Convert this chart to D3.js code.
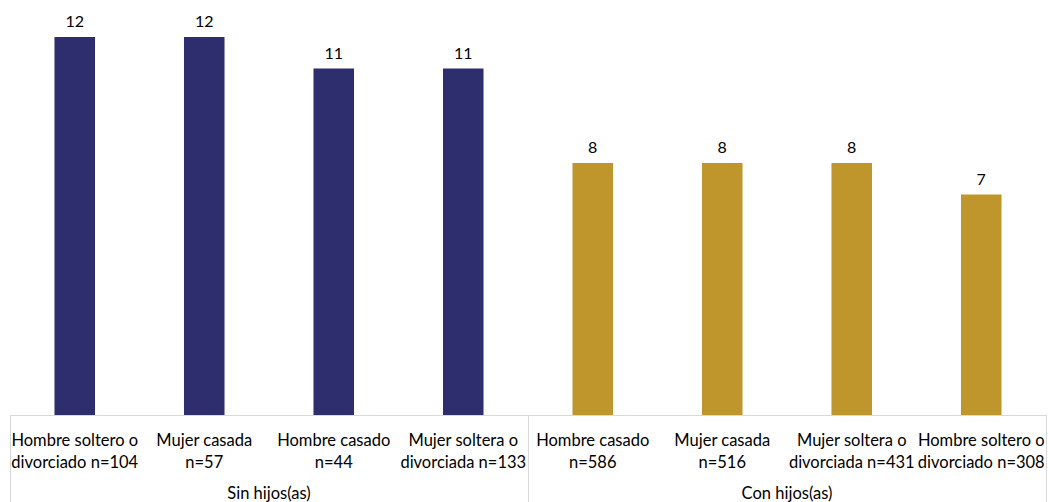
<!DOCTYPE html>
<html><head><meta charset="utf-8">
<script src="https://cdn.jsdelivr.net/npm/d3@7"></script>
<style>body{margin:0;background:#fff}svg{display:block}text{font-family:Lato,"Open Sans",sans-serif;fill:#000}</style>
</head><body><svg id="c" width="1048" height="502"></svg>
<script>
const categories = [
  ["Hombre soltero o","divorciado n=104"],
  ["Mujer casada","n=57"],
  ["Hombre casado","n=44"],
  ["Mujer soltera o","divorciada n=133"],
  ["Hombre casado","n=586"],
  ["Mujer casada","n=516"],
  ["Mujer soltera o","divorciada n=431"],
  ["Hombre soltero o","divorciado n=308"]
];
const groups = ["Sin hijos(as)","Con hijos(as)"];
const groupOf = [0,0,0,0,1,1,1,1];
const values = [12,12,11,11,8,8,8,7];
const colors = ["#2e2d6e","#bf962b"];

const svg = d3.select("#c");
const x0 = 10, x1 = 1046, base = 415;
const x = d3.scaleBand().domain(d3.range(values.length)).range([x0,x1]).paddingInner(0.687).paddingOuter(0.3435);
const y = d3.scaleLinear().domain([0,13]).range([base, base-13*31.5]);

svg.selectAll("rect.bar").data(values).join("rect")
  .attr("x",(d,i)=>x(i)).attr("width",x.bandwidth())
  .attr("y",d=>y(d)).attr("height",d=>base-y(d))
  .attr("fill",(d,i)=>colors[groupOf[i]]);

svg.selectAll("text.val").data(values).join("text")
  .attr("x",(d,i)=>x(i)+x.bandwidth()/2).attr("y",d=>y(d)-10)
  .attr("text-anchor","middle").style("font-size","16px").text(d=>d);

// axis lines
const g = svg.append("g").attr("stroke","#d9d9d9").attr("stroke-width",1);
g.append("line").attr("x1",x0).attr("x2",x1).attr("y1",base+0.5).attr("y2",base+0.5);
const step = x.step();
[0,4,8].forEach(k=>{
  const xx = Math.round(x0+k*step)+0.5;
  g.append("line").attr("x1",xx).attr("x2",xx).attr("y1",base).attr("y2",502);
});

// category labels
categories.forEach((c,i)=>{
  const t = svg.append("text").attr("text-anchor","middle").style("font-size","16.5px");
  c.forEach((line,j)=>t.append("tspan").attr("x",x(i)+x.bandwidth()/2).attr("y",446+j*22).text(line));
});
// group labels
groups.forEach((gname,k)=>{
  svg.append("text").attr("x",x0+(k*4+2)*step).attr("y",499).attr("text-anchor","middle")
    .style("font-size","16.5px").text(gname);
});
</script></body></html>
